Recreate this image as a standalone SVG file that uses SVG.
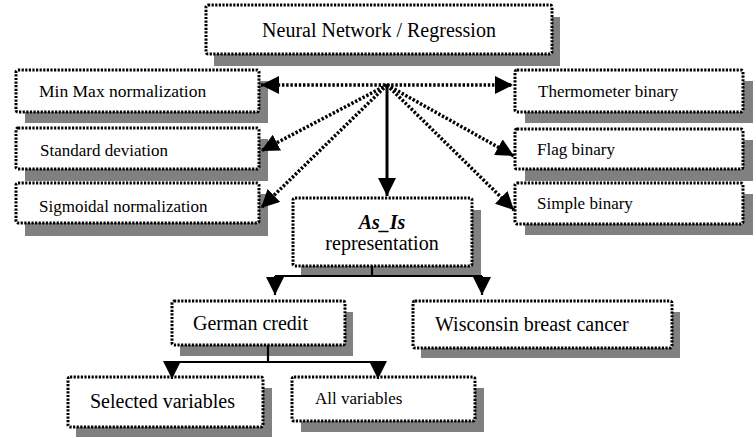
<svg xmlns="http://www.w3.org/2000/svg" width="756" height="438" viewBox="0 0 756 438">
<style>
.sh{fill:#808080;stroke:none}
.bx{fill:#fff;stroke:#000;stroke-width:3;stroke-dasharray:2.2 1.4}
.t{font-family:"Liberation Serif","Times New Roman",serif;fill:#000}
.dot{fill:none;stroke:#000;stroke-width:3.5;stroke-dasharray:2.4 1.8}
.sol{fill:none;stroke:#000;stroke-width:3}
.thin{fill:none;stroke:#000;stroke-width:2.2}
</style>
<defs>
<marker id="ah" markerUnits="userSpaceOnUse" markerWidth="20" markerHeight="18" refX="18" refY="9" orient="auto-start-reverse" viewBox="0 0 20 18">
<path d="M0,0 L18,9 L0,18 Z" fill="#000"/>
</marker>
</defs>
<rect x="0" y="0" width="756" height="438" fill="#fff"/>

<g id="n-top">
<rect class="sh" x="214" y="17" width="346" height="49"/>
<rect class="bx" x="206" y="5" width="346" height="49" rx="2"/>
<text class="t" x="379" y="37" font-size="20" text-anchor="middle">Neural Network / Regression</text>
</g>
<g id="n-minmax">
<rect class="sh" x="25" y="81" width="243" height="42"/>
<rect class="bx" x="16" y="70" width="243" height="42" rx="2"/>
<text class="t" x="39" y="97" font-size="17.5">Min Max normalization</text>
</g>
<g id="n-std">
<rect class="sh" x="25" y="139" width="243" height="42"/>
<rect class="bx" x="16" y="128" width="243" height="41" rx="2"/>
<text class="t" x="40" y="156" font-size="17">Standard deviation</text>
</g>
<g id="n-sig">
<rect class="sh" x="25" y="194" width="243" height="42"/>
<rect class="bx" x="16" y="183" width="243" height="40" rx="2"/>
<text class="t" x="39" y="212" font-size="17">Sigmoidal normalization</text>
</g>
<g id="n-thermo">
<rect class="sh" x="525" y="81" width="228" height="42"/>
<rect class="bx" x="515" y="70" width="228" height="42" rx="2"/>
<text class="t" x="538" y="97" font-size="17">Thermometer binary</text>
</g>
<g id="n-flag">
<rect class="sh" x="525" y="140" width="228" height="41"/>
<rect class="bx" x="515" y="129" width="228" height="40" rx="2"/>
<text class="t" x="537" y="155" font-size="17">Flag binary</text>
</g>
<g id="n-simple">
<rect class="sh" x="525" y="194" width="228" height="41"/>
<rect class="bx" x="515" y="183" width="228" height="41" rx="2"/>
<text class="t" x="537" y="209" font-size="17">Simple binary</text>
</g>
<g id="n-asis">
<rect class="sh" x="301" y="210" width="180" height="67"/>
<rect class="bx" x="293" y="198" width="179" height="68" rx="2"/>
<text class="t" x="382" y="229" font-size="20" text-anchor="middle" font-weight="bold" font-style="italic">As_Is</text>
<text class="t" x="382" y="250" font-size="20" text-anchor="middle">representation</text>
</g>
<g id="n-german">
<rect class="sh" x="180" y="312" width="173" height="44"/>
<rect class="bx" x="172" y="301" width="173" height="44" rx="2"/>
<text class="t" x="193" y="330" font-size="20">German credit</text>
</g>
<g id="n-wisc">
<rect class="sh" x="421" y="312" width="259" height="46"/>
<rect class="bx" x="413" y="301" width="259" height="47" rx="2"/>
<text class="t" x="435" y="331" font-size="20">Wisconsin breast cancer</text>
</g>
<g id="n-selected">
<rect class="sh" x="76" y="388" width="196" height="49"/>
<rect class="bx" x="68" y="377" width="195" height="50" rx="2"/>
<text class="t" x="90" y="408" font-size="20">Selected variables</text>
</g>
<g id="n-all">
<rect class="sh" x="301" y="388" width="183" height="44"/>
<rect class="bx" x="292" y="377" width="183" height="44" rx="2"/>
<text class="t" x="315" y="404" font-size="17">All variables</text>
</g>

<g id="connectors">
<path class="dot" d="M261,85 L513,85" marker-start="url(#ah)" marker-end="url(#ah)"/>
<path class="dot" d="M387,85 L261,151" marker-end="url(#ah)"/>
<path class="dot" d="M387,85 L261,208" marker-end="url(#ah)"/>
<path class="dot" d="M387,85 L514,156" marker-end="url(#ah)"/>
<path class="dot" d="M387,85 L514,210" marker-end="url(#ah)"/>
<path class="sol" d="M387,85 L387,196" marker-end="url(#ah)"/>
<path class="thin" d="M372,266 L372,276"/>
<path class="thin" d="M275,276 L482,276"/>
<path class="thin" d="M275,276 L275,295" marker-end="url(#ah)"/>
<path class="thin" d="M482,276 L482,295" marker-end="url(#ah)"/>
<path class="thin" d="M268,345 L268,362"/>
<path class="thin" d="M172,362 L378,362"/>
<path class="thin" d="M172,362 L172,379" marker-end="url(#ah)"/>
<path class="thin" d="M378,362 L378,379" marker-end="url(#ah)"/>
</g>
</svg>
